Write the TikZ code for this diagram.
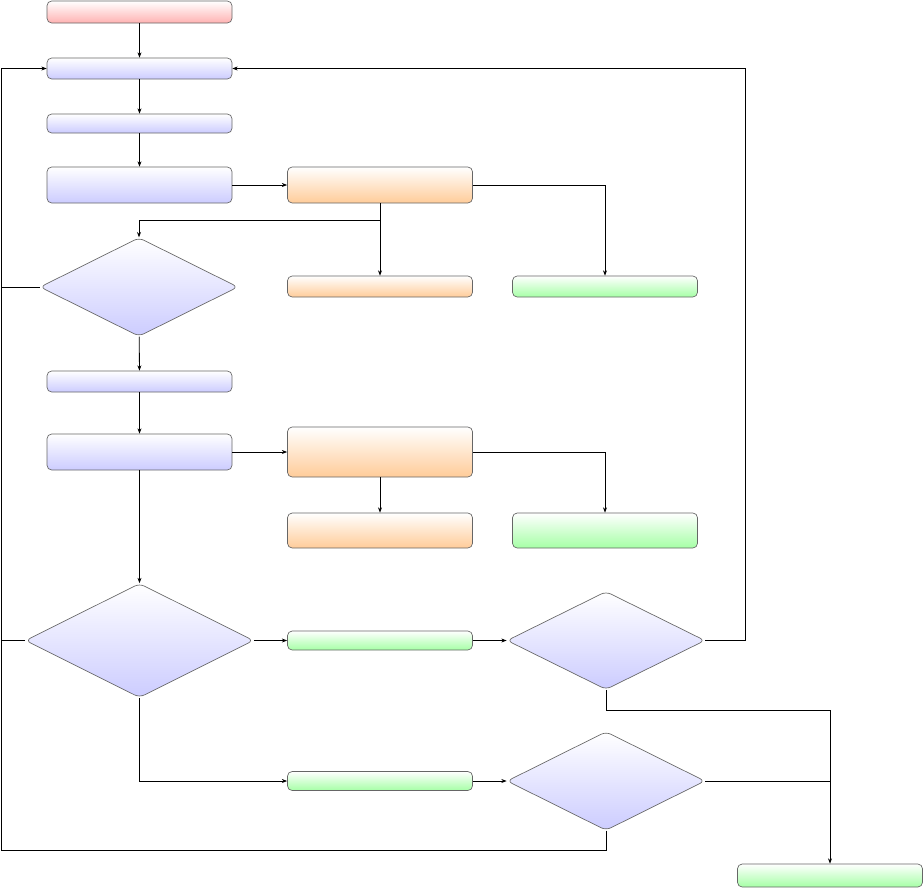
\documentclass[tikz,border=0pt]{standalone}
\usetikzlibrary{shapes.geometric,arrows.meta}
\begin{document}
\begin{tikzpicture}[x=0.75pt,y=-0.75pt,
  base/.style={draw=black!60,line width=0.5pt,inner sep=0pt,rounded corners=3.5pt,top color=white},
  bluebox/.style={base,rectangle,bottom color=blue!20,minimum width=138.75pt},
  redbox/.style={base,rectangle,bottom color=red!30,minimum width=138.75pt},
  orangebox/.style={base,rectangle,bottom color=orange!40,minimum width=138.75pt},
  greenbox/.style={base,rectangle,bottom color=green!35,minimum width=138.75pt},
  decision/.style={base,diamond,bottom color=blue!20,rounded corners=4pt},
  conn/.style={line width=0.6pt,-{Stealth[length=4pt,width=3pt]}},
  plain/.style={line width=0.6pt}]
\useasboundingbox (0,0) rectangle (924,889);
\node[redbox,minimum height=16.5pt] (start) at (139.5,12) {};
\node[bluebox,minimum height=15.75pt] (b1) at (139.5,68.5) {};
\node[bluebox,minimum height=14.25pt] (b2) at (139.5,123.5) {};
\node[bluebox,minimum height=27pt] (b3) at (139.5,185) {};
\node[orangebox,minimum height=27pt] (o1) at (380,185) {};
\node[decision,minimum width=148.5pt,minimum height=74pt] (d1) at (139,287) {};
\node[orangebox,minimum height=15.75pt] (o2) at (380,286.5) {};
\node[greenbox,minimum height=15.75pt] (g1) at (605,286.5) {};
\node[bluebox,minimum height=15.75pt] (b4) at (139.5,381.5) {};
\node[bluebox,minimum height=27pt] (b5) at (139.5,452) {};
\node[orangebox,minimum height=37.5pt] (o3) at (380,452) {};
\node[orangebox,minimum height=26.25pt] (o4) at (380,530.5) {};
\node[greenbox,minimum height=26.25pt] (g2) at (605,530.5) {};
\node[decision,minimum width=171pt,minimum height=85.5pt] (d2) at (139.5,640.5) {};
\node[greenbox,minimum height=14.25pt] (g3) at (380,640.5) {};
\node[decision,minimum width=148.5pt,minimum height=73.5pt] (d3) at (606,640.5) {};
\node[greenbox,minimum height=14.25pt] (g4) at (380,781) {};
\node[decision,minimum width=148.5pt,minimum height=74pt] (d4) at (606,781) {};
\node[greenbox,minimum height=17.25pt] (g5) at (830,875.5) {};
\coordinate (L) at (1,68.5);
\coordinate (Lb) at (1,850);
\coordinate (R) at (745,68.5);
\coordinate (j1) at (380,220);
\coordinate (j2) at (606,710);
\draw[conn] (start) -- (b1);
\draw[conn] (b1) -- (b2);
\draw[conn] (b2) -- (b3);
\draw[conn] (b3) -- (o1);
\draw[conn] (o1.east) -| (g1.north);
\draw[conn] (o1) -- (o2);
\draw[conn] (j1) -| (d1.north);
\draw[conn] (d1) -- (b4);
\draw[conn] (b4) -- (b5);
\draw[conn] (b5) -- (o3);
\draw[conn] (o3) -- (o4);
\draw[conn] (o3.east) -| (g2.north);
\draw[conn] (b5) -- (d2);
\draw[conn] (d2) -- (g3);
\draw[conn] (g3) -- (d3);
\draw[conn] (d2.south) |- (g4.west);
\draw[conn] (g4) -- (d4);
\draw[conn] (d1.west) -| (L) -- (b1.west);
\draw[plain] (d2.west) -| (L);
\draw[plain] (d4.south) |- (Lb) -- (L);
\draw[conn] (d3.east) -| (R) -- (b1.east);
\draw[conn] (d3.south) -- (j2) -| (g5.north);
\draw[plain] (d4.east) -- (d4.east -| g5.north);
\end{tikzpicture}
\end{document}
